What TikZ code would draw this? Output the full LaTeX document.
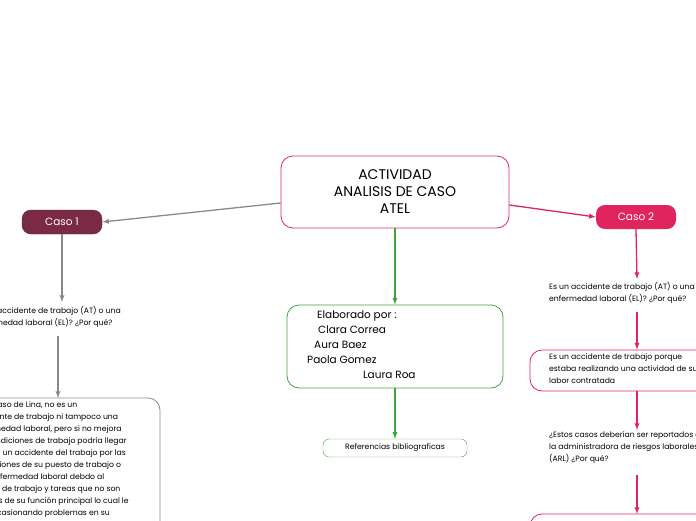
\documentclass[tikz,border=0pt]{standalone}
\usepackage{fontspec}
\setmainfont{Poppins}
\usetikzlibrary{positioning}
\definecolor{rosa}{HTML}{E0245E}
\definecolor{vino}{HTML}{7A2A44}
\definecolor{verde}{HTML}{3FA535}
\definecolor{gris}{HTML}{8A8A8A}
\tikzset{
  caja/.style={draw,rounded corners=12pt,line width=0.8pt,inner sep=0pt},
  pill/.style={rounded corners=9pt,text=white,font=\fontsize{10.5}{13}\selectfont,minimum width=80pt,minimum height=24pt},
  txt/.style={font=\fontsize{7.7}{12}\selectfont,align=left,anchor=north west,inner sep=0pt},
  nombre/.style={txt,font=\fontsize{10.5}{15}\selectfont},
  flecha/.style={-latex,line width=1.3pt}
}
\begin{document}
\begin{tikzpicture}[x=1pt,y=-1pt]
  \useasboundingbox (0,0) rectangle (696,520);
  \clip (0,0) rectangle (696,520);

  % centro
  \node[caja,draw=rosa,minimum width=228pt,minimum height=72pt,align=center,
        font=\fontsize{14}{17}\selectfont] (main) at (395,192) {ACTIVIDAD\\ANALISIS DE CASO\\ATEL};
  \node[pill,fill=vino,draw=vino!70!black] (c1) at (62,222) {Caso 1};
  \node[pill,fill=rosa] (c2) at (636,217) {Caso 2};
  \draw[flecha,gris] (main.west |- 0,203) -- (c1.east);
  \draw[flecha,rosa] (main.east |- 0,205) -- (c2.west);

  % centro abajo
  \node[caja,draw=verde,minimum width=216pt,minimum height=83pt] (autores) at (395,346.5) {};
  \node[nombre] (a0) at (317,311) {Elaborado por :};
  \node[nombre] (a1) at (318,326) {Clara Correa};
  \node[nombre] (a2) at (314,341) {Aura Baez};
  \node[nombre] (a3) at (307,356) {Paola Gomez};
  \node[nombre] (a4) at (363,371) {Laura Roa};
  \node[draw=verde,rounded corners=6pt,minimum width=144pt,minimum height=18pt,
        font=\fontsize{7.7}{10}\selectfont] (refs) at (395,448) {Referencias bibliograficas};
  \draw[flecha,verde] (main.south) -- (autores.north);
  \draw[flecha,verde] (autores.south) -- (refs.north);

  % caso 1
  \node[txt] (p1) at (-25,306) {Es un accidente de trabajo (AT) o una\\enfermedad laboral (EL)? ¿Por qué?};
  \draw[caja,draw=gris] (-40,398) rectangle (160,560);
  \coordinate (r1) at (58,398);
  \node[txt] (t1) at (-27,401) {En el caso de Lina, no es un\\accidente de trabajo ni tampoco una\\enfermedad laboral, pero si no mejora\\las condiciones de trabajo podria llegar\\a tener un accidente del trabajo por las\\condiciones de su puesto de trabajo o\\una enfermedad laboral debdo al\\exceso de trabajo y tareas que no son\\propias de su función principal lo cual le\\está ocasionando problemas en su\\salud};
  \draw[flecha,gris] (c1.south) -- (62,302);
  \draw[flecha,gris] (58,336) -- (r1);

  % caso 2
  \node[txt] (p2) at (549,282) {Es un accidente de trabajo (AT) o una\\enfermedad laboral (EL)? ¿Por qué?};
  \node[caja,draw=rosa,minimum width=200pt,minimum height=41pt] (r2) at (630,370.5) {};
  \node[txt] (t2) at (549,353) {Es un accidente de trabajo porque\\estaba realizando una actividad de su\\labor contratada};
  \node[txt] (p3) at (549,431) {¿Estos casos deberían ser reportados a\\la administradora de riesgos laborales\\(ARL) ¿Por qué?};
  \draw[caja,draw=rosa] (530,514) rectangle (720,580);
  \coordinate (r3) at (637,514);
  \draw[flecha,rosa] (c2.south) -- (637,279);
  \draw[flecha,rosa] (637,312) -- (r2.north -| 637,0);
  \draw[flecha,rosa] (r2.south -| 637,0) -- (637,430);
  \draw[flecha,rosa] (637,475) -- (r3);
\end{tikzpicture}
\end{document}
